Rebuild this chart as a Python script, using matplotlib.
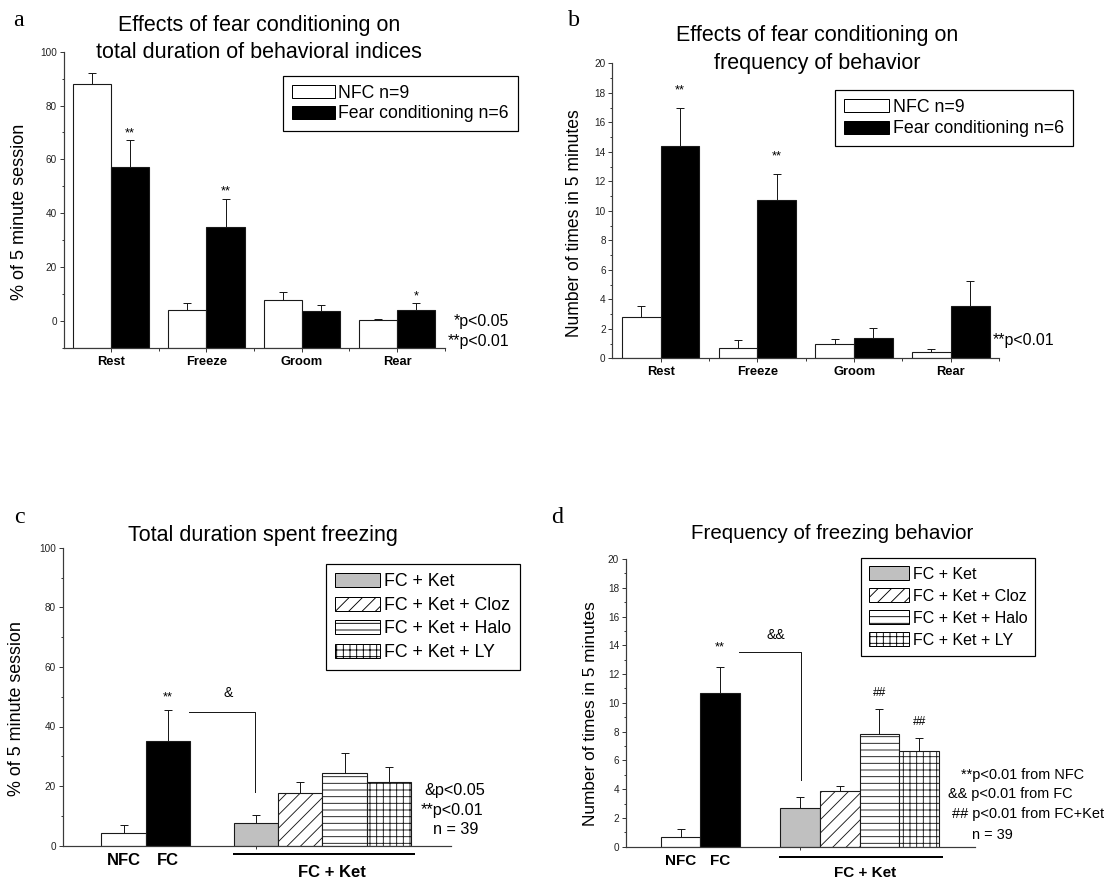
import numpy as np
import matplotlib
matplotlib.use('Agg')
import matplotlib.pyplot as plt
from matplotlib.patches import Patch
from matplotlib.ticker import MultipleLocator, FixedLocator
import matplotlib.transforms as mtransforms

# ---------------- data ----------------
behaviors = ['Rest', 'Freeze', 'Groom', 'Rear']
series_names = ['NFC n=9', 'Fear conditioning n=6']

dur_nfc = [88.0, 4.0, 7.7, 0.2]
dur_nfc_err = [3.9, 2.6, 2.9, 0.3]
dur_fc = [57.1, 35.0, 3.7, 4.1]
dur_fc_err = [10.0, 10.3, 2.1, 2.5]
dur_fc_sig = ['**', '**', '', '*']

freq_nfc = [2.8, 0.7, 0.95, 0.4]
freq_nfc_err = [0.73, 0.52, 0.34, 0.2]
freq_fc = [14.4, 10.7, 1.4, 3.57]
freq_fc_err = [2.55, 1.77, 0.63, 1.67]
freq_fc_sig = ['**', '**', '', '']

drug_groups = ['NFC', 'FC', 'FC + Ket', 'FC + Ket + Cloz', 'FC + Ket + Halo', 'FC + Ket + LY']
frz_dur = [4.1, 35.1, 7.7, 17.7, 24.3, 21.4]
frz_dur_err = [2.7, 10.3, 2.5, 3.8, 6.9, 4.9]
frz_dur_sig = ['', '**', '', '', '', '']
frz_freq = [0.65, 10.66, 2.67, 3.85, 7.83, 6.67]
frz_freq_err = [0.55, 1.81, 0.81, 0.39, 1.74, 0.91]
frz_freq_sig = ['', '**', '', '', '##', '##']

notes_a = ['*p<0.05', '**p<0.01']
notes_b = ['**p<0.01']
notes_c = ['&p<0.05', '**p<0.01', 'n = 39']
notes_d = ['**p<0.01 from NFC', '&& p<0.01 from FC', '## p<0.01 from FC+Ket', 'n = 39']

# ---------------- style ----------------
DPI = 80
W, H = 1106, 879


def P(px):
    return px * 72.0 / DPI


plt.rcParams['font.family'] = ['Liberation Sans', 'DejaVu Sans']
plt.rcParams['hatch.linewidth'] = P(0.9)
plt.rcParams['hatch.color'] = 'black'

fig = plt.figure(figsize=(W / DPI, H / DPI), dpi=DPI)
fig.patch.set_facecolor('white')

AXC = '#3a3a3a'
EC = '#1a1a1a'
GRAY = '#c0c0c0'
group_pos = [1, 2, 4, 5, 6, 7]
group_face = ['white', 'black', GRAY, 'white', 'white', 'white']
group_hatch = [None, None, None, '//', '--', '++']


def add_axes_px(l, t, r, b):
    return fig.add_axes([l / W, 1 - b / H, (r - l) / W, (b - t) / H])


def ftext(x, y, s, size, **kw):
    kw.setdefault('va', 'center')
    fig.text(x / W, 1 - y / H, s, fontsize=P(size), **kw)


def style_axes(ax, ymaj, ymin):
    for s in ['top', 'right']:
        ax.spines[s].set_visible(False)
    for s in ['left', 'bottom']:
        ax.spines[s].set_color(AXC)
        ax.spines[s].set_linewidth(P(1.2))
    ax.yaxis.set_major_locator(MultipleLocator(ymaj))
    ax.yaxis.set_minor_locator(MultipleLocator(ymin))
    ax.tick_params(axis='y', which='major', length=P(4.5), width=P(1), color=AXC,
                   labelsize=P(10), pad=P(2), labelcolor='#222222')
    ax.tick_params(axis='y', which='minor', length=P(2.5), width=P(1), color=AXC)
    ax.tick_params(axis='x', which='minor', length=P(2.5), width=P(1), color=AXC)


def px2y(ax, px):
    y0, y1 = ax.get_ylim()
    return px * (y1 - y0) / (ax.get_position().height * H)


def draw_errs(ax, xs, vals, errs):
    ax.errorbar(xs, vals, yerr=[np.zeros(len(vals)), errs], fmt='none', ecolor=EC,
                elinewidth=P(1), capsize=P(3.8), capthick=P(1), zorder=3)


def annotate_sig(ax, xs, vals, errs, sigs, gap_px, size):
    for xx, v, e, s in zip(xs, vals, errs, sigs):
        if s:
            ax.annotate(s, xy=(xx, v + e), xytext=(0, P(gap_px)), textcoords='offset points',
                        ha='center', va='center', fontsize=P(size))


def legend(ax, handles, labels, left, top, fs, hl, hh, spacing):
    leg = ax.legend(handles, labels, loc='upper left', bbox_to_anchor=(left / W, 1 - top / H),
                    bbox_transform=fig.transFigure, fontsize=P(fs), handlelength=hl / fs,
                    handleheight=hh / fs, handletextpad=0.22, labelspacing=spacing,
                    borderpad=0.5, borderaxespad=0, frameon=True, fancybox=False,
                    edgecolor='black', framealpha=1)
    leg.get_frame().set_linewidth(P(1.2))
    return leg


# ---------------- panels a and b ----------------
def behaviour_panel(ax, ymin, ymax, ymaj, yminor, nfc, nfc_err, fc, fc_err, sigs, gap_px):
    x = np.arange(len(behaviors)) + 0.5
    bw = 0.4
    ax.set_xlim(0, len(behaviors))
    ax.set_ylim(ymin, ymax)
    ax.bar(x - bw / 2, np.array(nfc) - ymin, bottom=ymin, width=bw, color='white',
           edgecolor=EC, linewidth=P(1.1), zorder=2)
    ax.bar(x + bw / 2, np.array(fc) - ymin, bottom=ymin, width=bw, color='black',
           edgecolor=EC, linewidth=P(1.1), zorder=2)
    draw_errs(ax, x - bw / 2, nfc, nfc_err)
    draw_errs(ax, x + bw / 2, fc, fc_err)
    annotate_sig(ax, x + bw / 2, fc, fc_err, sigs, gap_px, 13)
    style_axes(ax, ymaj, yminor)
    ax.set_xticks(x)
    ax.set_xticklabels(behaviors, fontweight='bold', fontsize=P(12.9))
    ax.xaxis.set_minor_locator(FixedLocator(np.arange(1, len(behaviors) + 1)))
    ax.tick_params(axis='x', which='major', length=P(4), width=P(1), color=AXC, pad=P(4))
    handles = [Patch(facecolor='white', edgecolor='black', linewidth=P(1)),
               Patch(facecolor='black', edgecolor='black', linewidth=P(1))]
    return handles


ax_a = add_axes_px(63.6, 51.7, 444.6, 347.7)
h = behaviour_panel(ax_a, -10, 100, 20, 10, dur_nfc, dur_nfc_err, dur_fc, dur_fc_err,
                    dur_fc_sig, 7)
legend(ax_a, h, series_names, 282.7, 76, 17.6, 43, 13.3, 0.2)

ax_b = add_axes_px(612.2, 63.3, 999.2, 358.3)
h = behaviour_panel(ax_b, 0, 20, 2, 1, freq_nfc, freq_nfc_err, freq_fc, freq_fc_err,
                    freq_fc_sig, 18)
legend(ax_b, h, series_names, 835, 90, 17.8, 45, 13.3, 0.25)


# ---------------- panels c and d ----------------
def drug_panel(ax, ymax, ymaj, yminor, vals, errs, sigs, star_gap, hash_gap, lab_fs):
    ax.set_xlim(-0.38, 8.4)
    ax.set_ylim(0, ymax)
    for p, v, fc_, ht in zip(group_pos, vals, group_face, group_hatch):
        ax.bar(p, v, width=1.0, color=fc_, edgecolor=EC, linewidth=P(1.1), hatch=ht, zorder=2)
    draw_errs(ax, group_pos, vals, errs)
    for p, v, e, s in zip(group_pos, vals, errs, sigs):
        if s:
            g = star_gap if s.startswith('*') else hash_gap
            ax.annotate(s, xy=(p, v + e), xytext=(0, P(g)), textcoords='offset points',
                        ha='center', va='center', fontsize=P(13 if s.startswith('*') else 12))
    style_axes(ax, ymaj, yminor)
    ax.set_xticks(group_pos[:2])
    ax.set_xticklabels(drug_groups[:2], fontweight='bold', fontsize=P(lab_fs))
    ax.tick_params(axis='x', which='major', length=0, pad=P(7))
    ax.xaxis.set_minor_locator(FixedLocator([group_pos[2]]))
    handles = [Patch(facecolor=f, edgecolor='black', hatch=ht, linewidth=P(1))
               for f, ht in zip(group_face[2:], group_hatch[2:])]
    return handles


def bracket(ax, vals, errs, h_off_px, v_off_px, label, lab_off_px, x_end):
    i_fc, i_k = 1, 2
    y_h = vals[i_fc] + errs[i_fc] + px2y(ax, h_off_px)
    y_b = vals[i_k] + errs[i_k] + px2y(ax, v_off_px)
    x0 = group_pos[i_fc] + 0.47
    ax.plot([x0, x_end, x_end], [y_h, y_h, y_b], color=EC, lw=P(1), zorder=3)
    ax.text((x0 + x_end) / 2 + 0.14, y_h + px2y(ax, lab_off_px), label, ha='center',
            va='center', fontsize=P(14))


def group_label(ax, y_line, y_text, text_x, fs):
    tr = mtransforms.blended_transform_factory(ax.transData, ax.transAxes)
    ax.plot([group_pos[2] - 0.5, group_pos[-1] + 0.58], [y_line, y_line], color='black',
            lw=P(2), transform=tr, clip_on=False)
    ax.text(text_x, y_text, drug_groups[2], transform=tr, ha='center', va='center',
            fontweight='bold', fontsize=P(fs))


ax_c = add_axes_px(62.5, 547.7, 450.7, 845.7)
h = drug_panel(ax_c, 100, 20, 10, frz_dur, frz_dur_err, frz_dur_sig, 13, 13, 16.6)
legend(ax_c, h, drug_groups[2:], 326, 564, 17.8, 44.7, 15, 0.36)
bracket(ax_c, frz_dur, frz_dur_err, -2, 23.5, '&', 19, 3.97)
group_label(ax_c, -0.028, -0.0916, 5.72, 16.6)

ax_d = add_axes_px(625.6, 559, 975, 846.7)
h = drug_panel(ax_d, 20, 2, 1, frz_freq, frz_freq_err, frz_freq_sig, 20, 16, 15.3)
legend(ax_d, h, drug_groups[2:], 861.3, 558.3, 16.0, 40, 15, 0.42)
bracket(ax_d, frz_freq, frz_freq_err, 15.5, 16.7, '&&', 16.5, 4.03)
group_label(ax_d, -0.037, -0.0914, 5.63, 15.3)

# ---------------- titles, labels, notes ----------------
TFS = 21.5
ftext(259.3, 25, 'Effects of fear conditioning on', TFS, ha='center')
ftext(259.3, 52.7, 'total duration of behavioral indices', TFS, ha='center')
ftext(817.4, 35, 'Effects of fear conditioning on', TFS, ha='center')
ftext(817.4, 63.3, 'frequency of behavior', TFS, ha='center')
ftext(263.4, 535, 'Total duration spent freezing', TFS, ha='center')
ftext(832.4, 533.3, 'Frequency of freezing behavior', 20.5, ha='center')

ftext(19.6, 211.7, '% of 5 minute session', 18, ha='center', rotation=90)
ftext(574.3, 223, 'Number of times in 5 minutes', 17.5, ha='center', rotation=90)
ftext(17, 709, '% of 5 minute session', 17.9, ha='center', rotation=90)
ftext(590.5, 714, 'Number of times in 5 minutes', 17.3, ha='center', rotation=90)

for s, l, y in zip('abcd', [13, 568, 14, 551], [26, 26, 523, 523]):
    ftext(l, y, s, 24, ha='left', va='baseline', family=['Liberation Serif', 'DejaVu Serif'])

ftext(509, 321.7, notes_a[0], 15.9, ha='right')
ftext(509, 341.7, notes_a[1], 15.9, ha='right')
ftext(993, 340.7, notes_b[0], 15.9, ha='left')
for s, l, y in zip(notes_c, [424.3, 420.7, 433], [790, 810, 830]):
    ftext(l, y, s, 16.2, ha='left')
for s, l, y in zip(notes_d, [960.6, 948, 951.6, 972], [775, 794.3, 814, 835]):
    ftext(l, y, s, 14.5, ha='left')

fig.savefig('out.png', dpi=DPI, facecolor='white')
